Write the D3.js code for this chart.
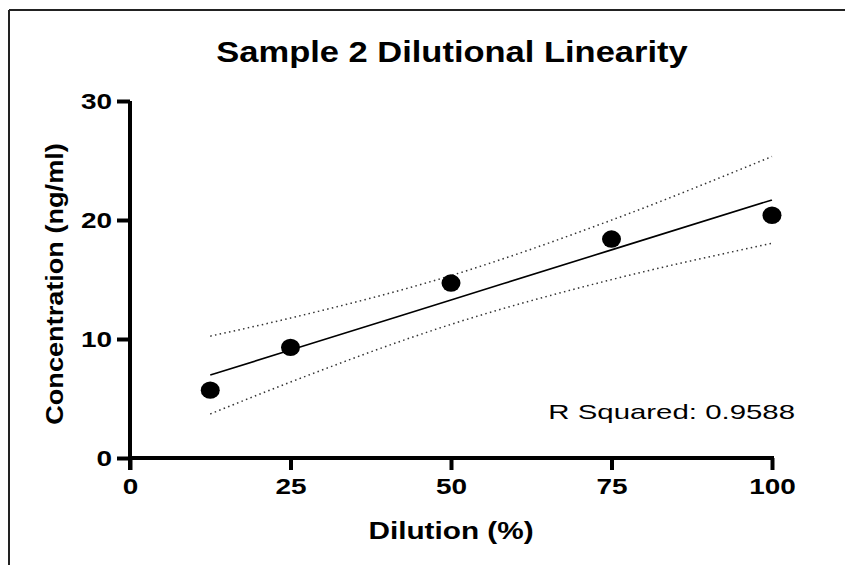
<!DOCTYPE html>
<html>
<head>
<meta charset="utf-8">
<script src="https://cdn.jsdelivr.net/npm/d3@7"></script>
<style>
  html, body { margin: 0; padding: 0; background: #fff; }
  text { font-family: "Liberation Sans", Arial, sans-serif; }
</style>
</head>
<body>
<svg id="chart" width="845" height="565"></svg>
<script>
// measured points
var dilution = [12.5, 25, 50, 75, 100];
var concentration = [5.7, 9.3, 14.7, 18.4, 20.4];

// fit line and 95% band at the same x
var fitY = [6.97, 9.07, 13.28, 17.49, 21.69];
var upperY = [10.24, 11.76, 15.33, 19.99, 25.34];
var lowerY = [3.70, 6.38, 11.23, 14.99, 18.04];

var xTicks = [0, 25, 50, 75, 100];
var yTicks = [0, 10, 20, 30];
var rSquared = '0.9588';

var svg = d3.select('#chart');

// text in the original is drawn wider than the font, so stretch it
function wideText(x, y, s, rot) {
  return 'translate(' + x + ',' + y + ')' + (rot ? ' rotate(' + rot + ')' : '') + ' scale(' + s + ',1)';
}

// outer frame (top + left only)
svg.append('line')
  .attr('x1', 9).attr('x2', 845).attr('y1', 10).attr('y2', 10)
  .style('stroke', '#222').style('stroke-width', 2);
svg.append('line')
  .attr('x1', 9).attr('x2', 9).attr('y1', 10).attr('y2', 565)
  .style('stroke', '#222').style('stroke-width', 2);

var x = d3.scaleLinear().domain([0, 100]).range([130, 772]);
var y = d3.scaleLinear().domain([0, 30]).range([458, 101]);

svg.append('text')
  .attr('transform', wideText(452, 62, 1.15))
  .attr('text-anchor', 'middle')
  .style('font-size', '30px').style('font-weight', 'bold')
  .text('Sample 2 Dilutional Linearity');

var xAxis = svg.append('g')
  .attr('transform', 'translate(0,' + y(0) + ')')
  .call(d3.axisBottom(x).tickValues(xTicks).tickSize(12).tickPadding(8).tickFormat(d3.format('d')));

var yAxis = svg.append('g')
  .attr('transform', 'translate(' + x(0) + ',0)')
  .call(d3.axisLeft(y).tickValues(yTicks).tickSize(13).tickPadding(5).tickFormat(d3.format('d')));

[xAxis, yAxis].forEach(function(ax) {
  ax.select('.domain').remove();
  ax.selectAll('.tick line').style('stroke', '#000').style('stroke-width', 4);
  ax.selectAll('.tick text')
    .style('font-family', '"Liberation Sans", Arial, sans-serif')
    .style('font-size', '22px').style('font-weight', 'bold').style('fill', '#000')
    .each(function() {
      var t = d3.select(this);
      var tx = +t.attr('x') || 0;
      var ty = +t.attr('y') || 0;
      t.attr('x', 0).attr('y', 0).attr('transform', wideText(tx, ty, 1.27));
    });
});

// thick axis lines
svg.append('line')
  .attr('x1', x(0)).attr('x2', x(100)).attr('y1', y(0)).attr('y2', y(0))
  .style('stroke', '#000').style('stroke-width', 4).style('stroke-linecap', 'square');
svg.append('line')
  .attr('x1', x(0)).attr('x2', x(0)).attr('y1', y(30)).attr('y2', y(0) + 12)
  .style('stroke', '#000').style('stroke-width', 4);

svg.append('text')
  .attr('transform', wideText(451, 539, 1.24))
  .attr('text-anchor', 'middle')
  .style('font-size', '24px').style('font-weight', 'bold')
  .text('Dilution (%)');

svg.append('text')
  .attr('transform', wideText(63, 284, 1.13, -90))
  .attr('text-anchor', 'middle')
  .style('font-size', '24px').style('font-weight', 'bold')
  .text('Concentration (ng/ml)');

function band(vals) {
  return d3.line()
    .x(function(d, i) { return x(dilution[i]); })
    .y(function(d) { return y(d); })
    .curve(d3.curveMonotoneX)(vals);
}

svg.append('path').attr('d', band(fitY))
  .style('fill', 'none').style('stroke', '#000').style('stroke-width', 1.6);

[upperY, lowerY].forEach(function(vals) {
  svg.append('path').attr('d', band(vals))
    .style('fill', 'none').style('stroke', '#333')
    .style('stroke-width', 1.5).style('stroke-dasharray', '1.5,3.3');
});

svg.selectAll('ellipse.pt')
  .data(dilution)
  .enter()
  .append('ellipse')
  .attr('class', 'pt')
  .attr('cx', function(d) { return x(d); })
  .attr('cy', function(d, i) { return y(concentration[i]); })
  .attr('rx', 9.5).attr('ry', 8.7)
  .style('fill', '#000');

svg.append('text')
  .attr('transform', wideText(795, 419, 1.4))
  .attr('text-anchor', 'end')
  .style('font-size', '21px')
  .text('R Squared: ' + rSquared);
</script>
</body>
</html>
